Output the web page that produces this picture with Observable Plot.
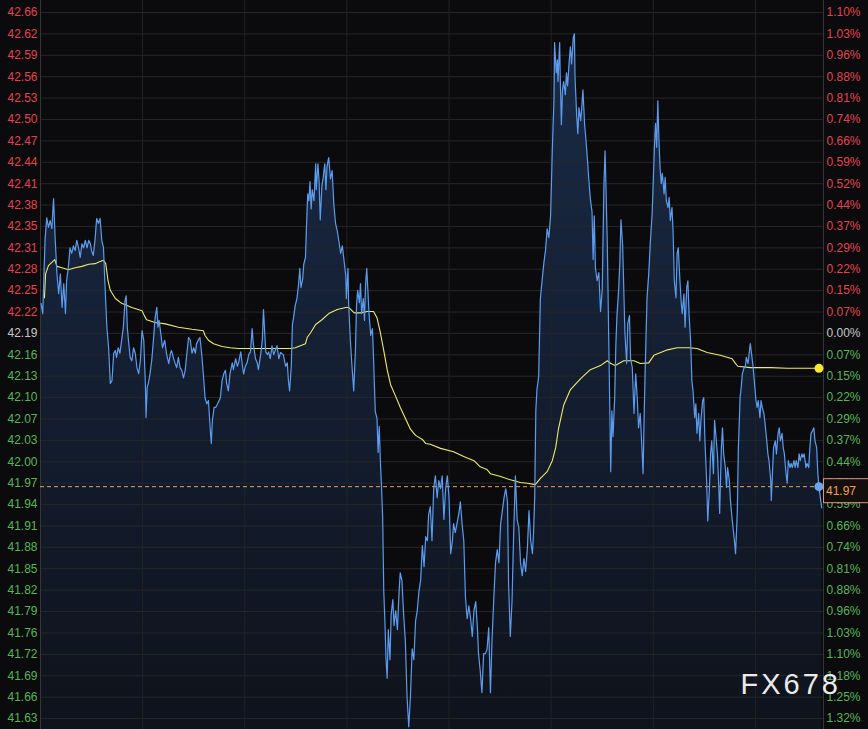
<!DOCTYPE html>
<html>
<head>
<meta charset="utf-8">
<script src="https://cdn.jsdelivr.net/npm/d3@7"></script>
<script src="https://cdn.jsdelivr.net/npm/@observablehq/plot@0.6"></script>
<style>
  html, body { margin: 0; padding: 0; background: #0b0b0e; }
  #chart { width: 868px; height: 729px; overflow: hidden; }
</style>
</head>
<body>
<div id="chart"></div>
<script>
// Intraday silver quote: price line, average line, previous close at 42.19
const prevClose = 42.19;
const tickStep = 0.03127;            // one grid step in price
const sessionMinutes = 1380;         // 23-hour session
const gridEvery = 180;               // vertical grid every 3 hours

// tick labels from the lowest grid line (k = -18) to the highest (k = 15)
const leftTickLabels = [
  "41.63","41.66","41.69","41.72","41.76","41.79","41.82","41.85","41.88","41.91",
  "41.94","41.97","42.00","42.03","42.07","42.10","42.13","42.16","42.19","42.22",
  "42.25","42.28","42.31","42.35","42.38","42.41","42.44","42.47","42.50","42.53",
  "42.56","42.59","42.62","42.66"
];
const rightTickLabels = [
  "1.32%","1.25%","1.18%","1.10%","1.03%","0.96%","0.88%","0.81%","0.74%","0.66%",
  "0.59%","0.52%","0.44%","0.37%","0.29%","0.22%","0.15%","0.07%","0.00%","0.07%",
  "0.15%","0.22%","0.29%","0.37%","0.44%","0.52%","0.59%","0.66%","0.74%","0.81%",
  "0.88%","0.96%","1.03%","1.10%"
];

// [minute of session, price]
const priceSeries = [
  [1,42.234],[4,42.219],[8,42.326],[11,42.359],[14,42.345],[17,42.355],[20,42.343],[23,42.387],[26,42.326],[29,42.277],
  [32,42.248],[35,42.277],[38,42.228],[41,42.263],[44,42.219],[46,42.267],[49,42.286],[52,42.315],[55,42.307],[58,42.318],
  [61,42.311],[64,42.326],[67,42.315],[70,42.301],[73,42.321],[76,42.315],[79,42.326],[82,42.315],[85,42.326],[88,42.321],
  [90,42.311],[93,42.304],[96,42.326],[99,42.358],[102,42.351],[105,42.358],[108,42.326],[111,42.315],[114,42.253],[117,42.199],
  [120,42.169],[123,42.117],[126,42.121],[129,42.161],[132,42.165],[134,42.155],[137,42.169],[140,42.161],[143,42.180],[146,42.199],
  [149,42.238],[151,42.245],[153,42.199],[155,42.180],[158,42.155],[161,42.150],[164,42.169],[167,42.161],[170,42.140],[173,42.131],
  [176,42.150],[179,42.194],[182,42.180],[185,42.111],[186,42.067],[188,42.111],[190,42.117],[193,42.131],[196,42.150],[199,42.180],
  [202,42.213],[205,42.228],[207,42.199],[209,42.209],[212,42.190],[215,42.169],[219,42.180],[222,42.161],[226,42.146],[229,42.161],
  [231,42.165],[234,42.155],[237,42.147],[240,42.140],[243,42.155],[246,42.140],[249,42.136],[252,42.125],[255,42.136],[258,42.161],
  [261,42.184],[264,42.180],[267,42.161],[270,42.169],[273,42.161],[275,42.175],[278,42.180],[281,42.184],[284,42.161],[287,42.131],
  [290,42.096],[293,42.087],[296,42.092],[299,42.052],[301,42.029],[303,42.063],[306,42.082],[309,42.082],[312,42.087],[317,42.096],
  [320,42.121],[323,42.131],[326,42.136],[328,42.117],[331,42.106],[334,42.131],[338,42.147],[340,42.137],[344,42.153],[347,42.142],
  [349,42.147],[353,42.163],[356,42.142],[358,42.131],[361,42.142],[364,42.147],[367,42.159],[370,42.163],[373,42.197],[375,42.175],
  [379,42.153],[382,42.147],[384,42.137],[388,42.159],[391,42.181],[393,42.225],[397,42.163],[400,42.159],[402,42.163],[405,42.153],
  [408,42.172],[411,42.159],[417,42.172],[420,42.153],[423,42.162],[428,42.159],[432,42.142],[435,42.147],[437,42.120],[439,42.106],
  [442,42.142],[444,42.203],[446,42.213],[449,42.231],[452,42.241],[455,42.263],[457,42.285],[459,42.257],[462,42.269],[464,42.291],
  [467,42.301],[469,42.351],[471,42.394],[473,42.384],[475,42.412],[477,42.372],[479,42.400],[482,42.384],[485,42.438],[486,42.400],
  [489,42.438],[491,42.412],[493,42.356],[496,42.406],[498,42.416],[501,42.438],[503,42.400],[505,42.434],[508,42.447],[511,42.416],
  [514,42.428],[517,42.378],[520,42.351],[523,42.340],[526,42.324],[529,42.307],[532,42.318],[535,42.296],[538,42.275],[539,42.241],
  [542,42.285],[543,42.235],[546,42.181],[549,42.142],[552,42.106],[555,42.163],[557,42.231],[559,42.253],[562,42.235],[564,42.263],
  [566,42.219],[569,42.241],[571,42.209],[573,42.263],[575,42.285],[577,42.253],[579,42.219],[582,42.187],[585,42.197],[587,42.153],
  [590,42.076],[593,42.066],[595,42.016],[597,42.054],[599,42.004],[601,41.966],[603,41.922],[605,41.813],[607,41.769],[609,41.713],
  [611,41.686],[613,41.757],[616,41.713],[618,41.779],[621,41.801],[623,41.763],[626,41.785],[629,41.757],[632,41.813],[634,41.840],
  [637,41.829],[640,41.779],[643,41.741],[646,41.659],[649,41.615],[652,41.659],[655,41.729],[658,41.713],[661,41.769],[664,41.785],
  [667,41.813],[670,41.829],[673,41.880],[676,41.849],[679,41.893],[682,41.887],[684,41.925],[687,41.937],[690,41.887],[693,41.963],
  [696,41.982],[699,41.950],[702,41.975],[705,41.963],[708,41.982],[711,41.918],[714,41.963],[717,41.982],[720,41.950],[723,41.868],
  [726,41.887],[728,41.912],[731,41.899],[734,41.912],[737,41.925],[740,41.944],[743,41.912],[746,41.887],[749,41.804],[752,41.773],
  [755,41.792],[758,41.773],[761,41.747],[764,41.785],[767,41.798],[770,41.760],[772,41.722],[775,41.697],[778,41.665],[781,41.722],
  [784,41.722],[787,41.728],[790,41.760],[793,41.665],[796,41.747],[799,41.804],[802,41.855],[805,41.874],[808,41.855],[811,41.912],
  [814,41.931],[817,41.950],[820,41.963],[823,41.944],[825,41.823],[828,41.747],[831,41.798],[834,41.899],[837,41.982],[840,41.918],
  [843,41.906],[846,41.855],[849,41.836],[852,41.861],[855,41.842],[858,41.874],[861,41.931],[864,41.887],[867,41.868],[869,41.899],
  [871,41.950],[873,42.077],[875,42.108],[878,42.127],[881,42.241],[884,42.267],[887,42.292],[890,42.311],[893,42.343],[896,42.330],
  [899,42.362],[902,42.457],[905,42.533],[906,42.615],[909,42.571],[911,42.590],[912,42.558],[915,42.615],[916,42.565],[918,42.495],
  [920,42.546],[922,42.558],[925,42.539],[927,42.571],[929,42.552],[932,42.590],[934,42.609],[936,42.584],[939,42.622],[941,42.628],
  [942,42.565],[945,42.508],[947,42.482],[949,42.520],[952,42.501],[954,42.520],[956,42.546],[959,42.495],[961,42.476],[964,42.444],
  [966,42.419],[969,42.387],[972,42.368],[974,42.298],[976,42.362],[978,42.286],[981,42.267],[984,42.279],[987,42.222],[990,42.254],
  [993,42.406],[995,42.457],[996,42.425],[999,42.318],[1002,42.153],[1005,41.988],[1007,42.077],[1009,42.039],[1012,42.096],[1014,42.172],
  [1016,42.216],[1019,42.254],[1021,42.292],[1023,42.356],[1026,42.318],[1028,42.254],[1030,42.191],[1033,42.146],[1035,42.204],[1038,42.216],
  [1040,42.153],[1043,42.140],[1046,42.073],[1049,42.131],[1052,42.092],[1054,42.052],[1057,42.073],[1060,42.023],[1062,41.985],[1064,42.073],
  [1066,42.146],[1069,42.242],[1072,42.277],[1075,42.326],[1078,42.365],[1080,42.413],[1082,42.462],[1084,42.497],[1086,42.462],[1088,42.530],
  [1090,42.472],[1092,42.432],[1094,42.409],[1096,42.424],[1099,42.394],[1101,42.418],[1103,42.384],[1106,42.374],[1108,42.389],[1110,42.355],
  [1113,42.374],[1115,42.336],[1117,42.267],[1120,42.242],[1122,42.307],[1124,42.315],[1127,42.267],[1129,42.238],[1131,42.219],[1134,42.248],
  [1136,42.199],[1139,42.257],[1141,42.267],[1143,42.219],[1146,42.175],[1148,42.121],[1150,42.106],[1153,42.067],[1155,42.087],[1157,42.044],
  [1160,42.073],[1162,42.033],[1164,42.063],[1167,42.092],[1169,42.096],[1171,42.033],[1174,41.975],[1176,41.916],[1179,41.965],[1181,42.014],
  [1183,42.033],[1186,41.985],[1188,42.063],[1190,42.044],[1193,42.014],[1195,41.975],[1197,41.927],[1200,42.023],[1202,42.052],[1204,42.014],
  [1207,41.994],[1209,41.965],[1211,41.994],[1214,41.975],[1216,41.946],[1218,41.927],[1221,41.902],[1223,41.887],[1225,41.868],[1228,41.927],
  [1230,42.023],[1233,42.096],[1235,42.111],[1237,42.131],[1240,42.140],[1242,42.140],[1244,42.155],[1247,42.146],[1249,42.161],[1251,42.175],
  [1254,42.155],[1256,42.140],[1258,42.121],[1261,42.092],[1263,42.082],[1265,42.092],[1268,42.067],[1270,42.092],[1272,42.082],[1275,42.073],
  [1277,42.058],[1280,42.033],[1282,42.014],[1284,42.004],[1287,41.975],[1288,41.946],[1290,41.985],[1292,42.023],[1295,42.033],[1297,42.014],
  [1300,42.044],[1302,42.052],[1304,42.033],[1307,42.044],[1309,42.023],[1311,42.014],[1314,41.985],[1316,41.971],[1318,42.004],[1321,41.994],
  [1323,42.000],[1325,41.994],[1328,42.004],[1330,41.994],[1332,42.004],[1335,41.994],[1337,42.014],[1339,42.004],[1342,42.014],[1344,42.009],
  [1346,42.014],[1349,41.994],[1351,42.000],[1354,41.994],[1356,42.023],[1358,42.044],[1361,42.048],[1363,42.052],[1365,42.033],[1368,42.023],
  [1370,41.985],[1372,41.966],[1375,41.946],[1377,41.935]
];

// running average price [minute of session, price]
const avgSeries = [
  [7,42.242],[9,42.277],[14,42.289],[20,42.294],[25,42.298],[29,42.288],[38,42.286],[49,42.283],[61,42.286],[73,42.288],
  [85,42.291],[96,42.292],[105,42.295],[111,42.297],[115,42.292],[119,42.267],[123,42.253],[132,42.241],[143,42.234],[161,42.228],
  [179,42.223],[183,42.216],[187,42.210],[202,42.206],[220,42.204],[243,42.199],[267,42.196],[287,42.194],[290,42.187],[296,42.180],
  [305,42.175],[320,42.171],[334,42.169],[349,42.168],[441,42.168],[449,42.169],[458,42.172],[467,42.175],[470,42.184],[476,42.191],
  [485,42.203],[496,42.210],[508,42.219],[523,42.225],[538,42.228],[543,42.228],[553,42.220],[564,42.220],[576,42.222],[587,42.222],
  [593,42.213],[599,42.191],[605,42.165],[611,42.137],[617,42.115],[626,42.098],[634,42.082],[643,42.066],[652,42.050],[661,42.041],
  [673,42.035],[679,42.029],[687,42.028],[705,42.022],[728,42.017],[746,42.010],[764,42.004],[775,41.995],[787,41.991],[793,41.985],
  [811,41.981],[828,41.976],[846,41.972],[858,41.971],[872,41.969],[881,41.978],[893,41.988],[902,42.004],[908,42.023],[913,42.051],
  [922,42.085],[934,42.108],[952,42.124],[969,42.137],[987,42.143],[999,42.150],[1005,42.146],[1013,42.143],[1028,42.150],[1046,42.150],
  [1057,42.146],[1072,42.147],[1081,42.158],[1093,42.162],[1105,42.166],[1122,42.169],[1143,42.169],[1157,42.168],[1175,42.162],[1198,42.158],
  [1219,42.153],[1224,42.147],[1229,42.142],[1251,42.140],[1287,42.140],[1316,42.139],[1345,42.139],[1372,42.139]
];

const lastTime = 1372;
const lastPrice = 41.966;
const lastAvg = avgSeries[avgSeries.length - 1];
const watermark = "FX678";

const yDomain = [41.6111, 42.6766];

const ticks = leftTickLabels.map((label, i) => {
  const k = i - 18;
  return { k, value: prevClose + k * tickStep, left: label, right: rightTickLabels[i] };
});
const tone = k => (k > 0 ? "#e2434f" : k < 0 ? "#56b657" : "#c6c6c6");

const chart = Plot.plot({
  width: 868,
  height: 729,
  marginLeft: 40,
  marginRight: 45,
  marginTop: 0,
  marginBottom: 0,
  style: { background: "#0b0b0e", fontFamily: "'Liberation Sans', Arial, sans-serif", overflow: "visible" },
  x: { domain: [0, sessionMinutes], axis: null },
  y: { domain: yDomain, axis: null },
  color: { type: "identity" },
  marks: [
    Plot.areaY(priceSeries, { x: d => d[0], y1: yDomain[0], y2: d => d[1], fill: "url(#priceFill)" }),
    Plot.ruleY(ticks, { y: "value", stroke: "#272727", strokeWidth: 1 }),
    Plot.ruleX(d3.range(gridEvery, sessionMinutes, gridEvery), { stroke: "#232323", strokeWidth: 1 }),
    Plot.ruleX([0, sessionMinutes], { stroke: "#363636", strokeWidth: 1 }),
    Plot.ruleY([lastPrice], { stroke: "#e9a44e", strokeWidth: 1, strokeDasharray: "4,3" }),
    Plot.line(avgSeries, { x: d => d[0], y: d => d[1], stroke: "#eeea6a", strokeWidth: 1.1 }),
    Plot.line(priceSeries, { x: d => d[0], y: d => d[1], stroke: "#5c9cef", strokeWidth: 1.2 }),
    Plot.text(ticks, { y: "value", text: "left", fill: d => tone(d.k), frameAnchor: "left", textAnchor: "end", dx: -3, fontSize: 12 }),
    Plot.text(ticks, { y: "value", text: "right", fill: d => tone(d.k), frameAnchor: "right", textAnchor: "start", dx: 3, fontSize: 12 }),
    Plot.dot([[lastTime, lastPrice]], { x: d => d[0], y: d => d[1], r: 4.5, fill: "#69a6f2", stroke: "none" }),
    Plot.dot([lastAvg], { x: d => d[0], y: d => d[1], r: 4.5, fill: "#f6e92f", stroke: "none" }),
    Plot.text([watermark], { text: d => d, frameAnchor: "bottom-right", textAnchor: "start", dx: -83, dy: -36, fontSize: 29, fill: "#ebebeb" })
  ]
});

// gradient under the price line
const svg = d3.select(chart);
const defs = svg.insert("defs", ":first-child");
const grad = defs.append("linearGradient").attr("id", "priceFill")
  .attr("x1", 0).attr("y1", 0).attr("x2", 0).attr("y2", 1);
grad.append("stop").attr("offset", "0%").attr("stop-color", "rgb(45,85,150)").attr("stop-opacity", 0.42);
grad.append("stop").attr("offset", "100%").attr("stop-color", "rgb(45,85,150)").attr("stop-opacity", 0.1);

// wider letter spacing for the watermark
svg.selectAll("text").filter(function () { return this.textContent === watermark; })
  .attr("letter-spacing", "3");

// last price tag on the right edge
const yLast = chart.scale("y").apply(lastPrice);
const tag = svg.append("g").attr("text-anchor", "start");
tag.append("rect")
  .attr("x", 823.5).attr("y", yLast - 7.5)
  .attr("width", 50).attr("height", 24)
  .attr("fill", "#140f0d").attr("stroke", "#e8917a").attr("stroke-width", 1);
tag.append("text")
  .attr("x", 826).attr("y", yLast + 4.5)
  .attr("dy", "0.35em")
  .attr("text-anchor", "start")
  .attr("font-size", 12)
  .attr("font-family", "'Liberation Sans', Arial, sans-serif")
  .attr("fill", "#f2a444")
  .text(lastPrice.toFixed(2));

document.getElementById("chart").appendChild(chart);
</script>
</body>
</html>
